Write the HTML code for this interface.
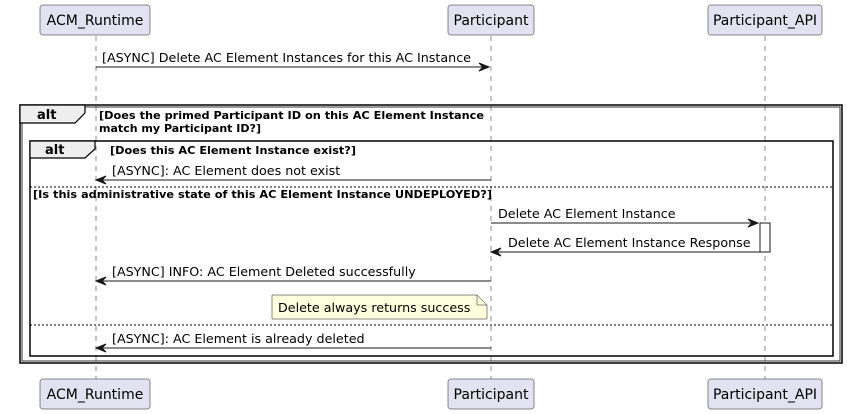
<!DOCTYPE html>
<html><head><meta charset="utf-8"><style>
html,body{margin:0;padding:0;background:#fff;}
svg{display:block;font-family:"DejaVu Sans","Liberation Sans",sans-serif;}
</style></head><body>
<svg width="847" height="414" viewBox="0 0 847 414" xmlns="http://www.w3.org/2000/svg">
<g stroke="#181818" stroke-width="0.5" stroke-dasharray="5,5">
<line x1="96" y1="36" x2="96" y2="379"/>
<line x1="491" y1="36" x2="491" y2="379"/>
<line x1="765" y1="36" x2="765" y2="379"/>
</g>
<g fill="#E2E2F0" stroke="#181818" stroke-width="0.5">
<rect x="40" y="5" width="110" height="30" rx="2.5"/>
<rect x="448" y="5" width="86" height="30" rx="2.5"/>
<rect x="708" y="5" width="114" height="30" rx="2.5"/>
<rect x="40" y="379" width="110" height="30" rx="2.5"/>
<rect x="448" y="379" width="86" height="30" rx="2.5"/>
<rect x="708" y="379" width="114" height="30" rx="2.5"/>
</g>
<g font-size="14" fill="#000" text-anchor="middle">
<text x="95" y="25">ACM_Runtime</text>
<text x="491" y="25">Participant</text>
<text x="765" y="25">Participant_API</text>
<text x="95" y="399">ACM_Runtime</text>
<text x="491" y="399">Participant</text>
<text x="765" y="399">Participant_API</text>
</g>
<rect x="20" y="105" width="822" height="258" fill="none" stroke="#000" stroke-width="1.5"/>
<rect x="22" y="107" width="818" height="254" fill="none" stroke="#000" stroke-width="0.8"/>
<path d="M20,105 H85 V113 L75,123 H20 Z" fill="#EEEEEE" stroke="#000" stroke-width="1.2"/>
<text x="37" y="119" font-size="13" font-weight="bold">alt</text>
<text x="99" y="119" font-size="11" font-weight="bold" textLength="385" lengthAdjust="spacingAndGlyphs">[Does the primed Participant ID on this AC Element Instance</text>
<text x="99" y="132" font-size="11" font-weight="bold" textLength="162" lengthAdjust="spacingAndGlyphs">match my Participant ID?]</text>
<rect x="30" y="141" width="803" height="215" fill="none" stroke="#000" stroke-width="1.5"/>
<path d="M30,141 H95 V149 L85,158 H30 Z" fill="#EEEEEE" stroke="#000" stroke-width="1.2"/>
<text x="45" y="154" font-size="13" font-weight="bold">alt</text>
<text x="110" y="154" font-size="11" font-weight="bold" textLength="246" lengthAdjust="spacingAndGlyphs">[Does this AC Element Instance exist?]</text>
<line x1="30" y1="187" x2="833" y2="187" stroke="#000" stroke-width="1" stroke-dasharray="2,2"/>
<text x="33" y="198" font-size="11" font-weight="bold" textLength="459" lengthAdjust="spacingAndGlyphs">[Is this administrative state of this AC Element Instance UNDEPLOYED?]</text>
<line x1="30" y1="325" x2="833" y2="325" stroke="#000" stroke-width="1" stroke-dasharray="2,2"/>
<rect x="760" y="223" width="10" height="29" fill="#fff" stroke="#181818" stroke-width="1"/>
<g stroke="#181818" stroke-width="1" fill="#181818">
<line x1="96" y1="67" x2="489" y2="67"/><path d="M479,63 L489,67 L479,71 L483,67 Z"/>
<line x1="98" y1="180" x2="491" y2="180"/><path d="M106,176 L96,180 L106,184 L102,180 Z"/>
<line x1="491" y1="223" x2="758" y2="223"/><path d="M748,219 L758,223 L748,227 L752,223 Z"/>
<line x1="493" y1="252" x2="760" y2="252"/><path d="M501,248 L491,252 L501,256 L497,252 Z"/>
<line x1="98" y1="281" x2="491" y2="281"/><path d="M106,277 L96,281 L106,285 L102,281 Z"/>
<line x1="98" y1="348" x2="491" y2="348"/><path d="M106,344 L96,348 L106,352 L102,348 Z"/>
</g>
<g font-size="12.7" fill="#000">
<text x="102" y="62">[ASYNC] Delete AC Element Instances for this AC Instance</text>
<text x="112" y="175">[ASYNC]: AC Element does not exist</text>
<text x="498" y="218">Delete AC Element Instance</text>
<text x="508" y="247">Delete AC Element Instance Response</text>
<text x="112" y="276">[ASYNC] INFO: AC Element Deleted successfully</text>
<text x="112" y="343">[ASYNC]: AC Element is already deleted</text>
</g>
<path d="M272,295 H477 L487,305 V319 H272 Z" fill="#FEFFDD" stroke="#181818" stroke-width="0.5"/>
<path d="M477,295 V305 H487" fill="none" stroke="#181818" stroke-width="0.5"/>
<text x="278" y="312" font-size="12.7" fill="#000">Delete always returns success</text>
</svg>
</body></html>
